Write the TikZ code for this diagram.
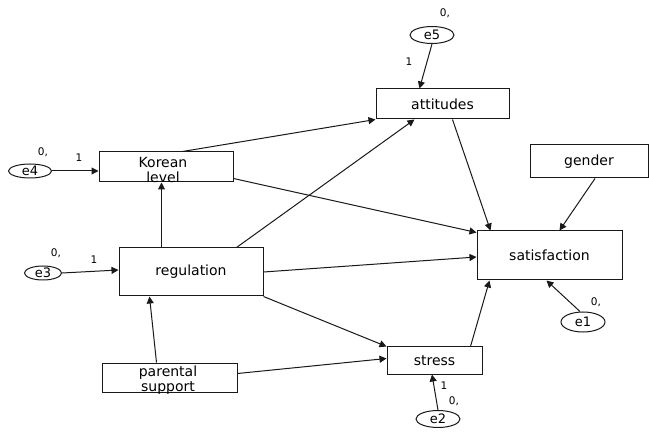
\documentclass[tikz,border=0pt]{standalone}
\usepackage{fontspec}
\setmainfont{DejaVu Sans}
\usetikzlibrary{shapes.geometric,arrows.meta,calc}
\tikzset{
  box/.style={draw=black!90, line width=1pt, rectangle, inner sep=0pt, font=\fontsize{14}{14}\selectfont, align=center},
  txt/.style={inner sep=0pt, font=\fontsize{14}{14}\selectfont},
  err/.style={draw=black!90, line width=1pt, ellipse, inner sep=0pt, minimum width=44pt, minimum height=17pt, font=\fontsize{13}{13}\selectfont},
  lab/.style={inner sep=0pt, font=\fontsize{10.5}{11}\selectfont},
  path/.style={draw=black!90, line width=1pt, -{Triangle[length=7pt,width=7pt]}}
}
\begin{document}
\begin{tikzpicture}[x=1pt,y=-1pt]
\useasboundingbox[fill=white] (0,0) rectangle (649,433);
% observed variables
\node[box, minimum width=134pt, minimum height=30pt] (kor) at (166,167) {};
\node[txt] (kortxt) at (163,162) {Korean};
\node[txt] (kortxtb) at (163,177.5) {level};
\node[box, minimum width=133pt, minimum height=30pt] (att) at (442.5,104) {attitudes};
\node[box, minimum width=144pt, minimum height=48pt] (reg) at (191,272) {regulation};
\node[box, minimum width=135pt, minimum height=29pt] (par) at (169.5,377.5) {};
\node[txt] (partxt) at (168,373) {parental};
\node[txt] (partxtb) at (168,388) {support};
\node[box, minimum width=95pt, minimum height=27pt] (st) at (434.5,360.5) {stress};
\node[box, minimum width=145pt, minimum height=49pt] (sat) at (549.5,255.5) {satisfaction};
\node[box, minimum width=118pt, minimum height=33pt] (gen) at (589,161.5) {gender};
% error terms
\node[err] (e5) at (432,35) {e5};
\node[err, minimum width=43pt, minimum height=14pt] (e4) at (30,171) {e4};
\node[err, minimum width=37pt, minimum height=14pt] (e3) at (43,273) {e3};
\node[err] (e2) at (438,419) {e2};
\node[err, minimum height=20pt] (e1) at (583,322) {e1};
% labels
\node[lab] (l5a) at (445,13) {0,};
\node[lab] (l5b) at (409,62) {1};
\node[lab] (l4a) at (43,152) {0,};
\node[lab] (l4b) at (79,158) {1};
\node[lab] (l3a) at (56,253) {0,};
\node[lab] (l3b) at (94,260) {1};
\node[lab] (l2a) at (444,386) {1};
\node[lab] (l2b) at (454,401) {0,};
\node[lab] (l1a) at (596,302) {0,};
% connectors
\draw[path] (e5.south) -- ($(att.north west)+(44,0)$);
\draw[path] (e4.east) -- (e4.east -| kor.west);
\draw[path] (e3.east) -- ($(reg.west)+(0,-2)$);
\draw[path] ($(kor.north west)+(84,0)$) -- (att.south west);
\draw[path] ($(reg.north west)+(43,0)$) -- ($(kor.south west)+(63,0)$);
\draw[path] ($(reg.north west)+(118,0)$) -- ($(att.south west)+(39,0)$);
\draw[path] ($(kor.south east)+(0,-4)$) -- ($(sat.north west)+(0,2)$);
\draw[path] (reg.east) -- ($(sat.west)+(0,1.5)$);
\draw[path] (reg.south east) -- (st.north west);
\draw[path] ($(par.north west)+(55,0)$) -- ($(reg.south west)+(31,0)$);
\draw[path] ($(par.east)+(0,-4)$) -- ($(st.west)+(0,-2)$);
\draw[path] ($(st.north east)+(-12,0)$) -- ($(sat.south west)+(13,0)$);
\draw[path] ($(att.south west)+(77,0)$) -- ($(sat.north west)+(14,0)$);
\draw[path] ($(gen.south)+(6,0)$) -- ($(sat.north west)+(83,0)$);
\draw[path] ($(e1.north)+(-3,0)$) -- ($(sat.south west)+(70,0)$);
\draw[path] (e2.north) -- ($(st.south)+(-2.5,0)$);
\end{tikzpicture}
\end{document}
